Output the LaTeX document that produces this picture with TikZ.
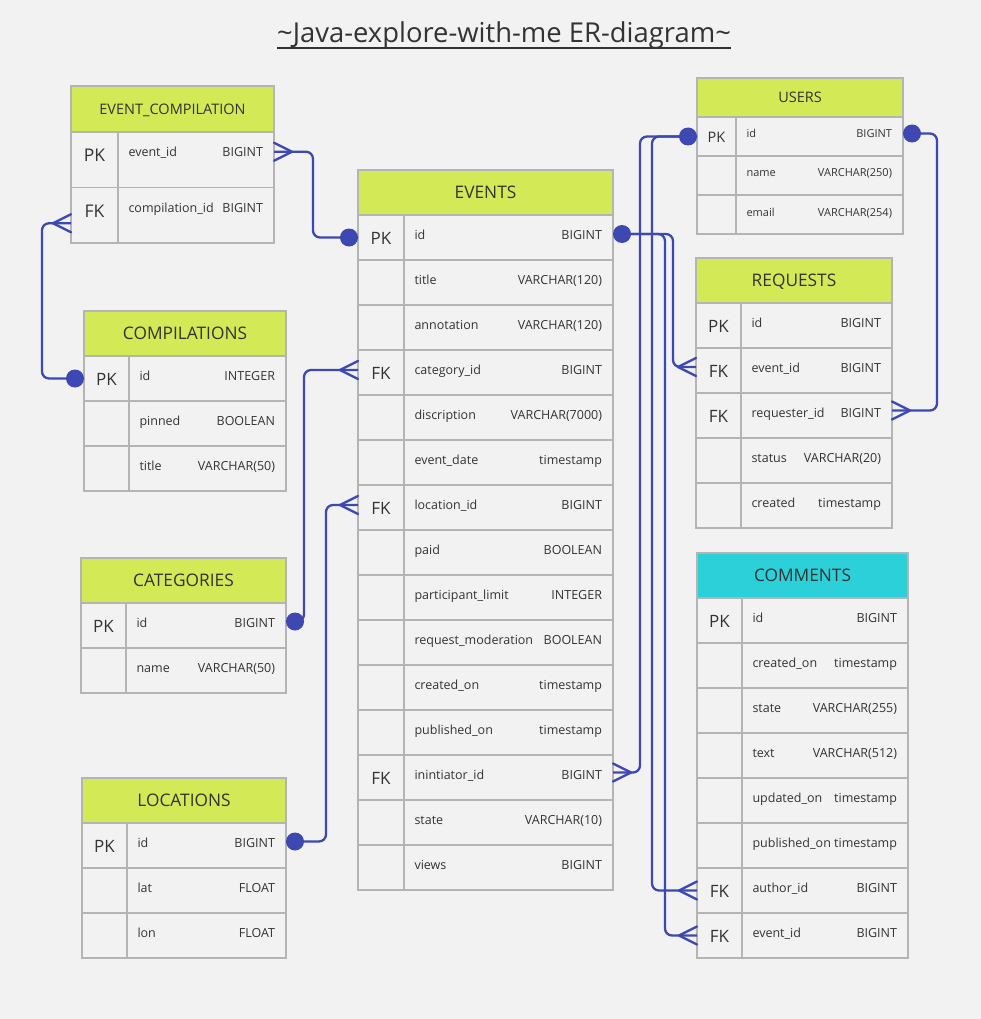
\documentclass[tikz,border=0pt]{standalone}
\usepackage{fontspec}
\setmainfont{Open Sans}
\usetikzlibrary{calc}
\definecolor{bg}{RGB}{242,242,242}
\definecolor{lime}{RGB}{212,233,86}
\definecolor{cyanh}{RGB}{43,208,216}
\definecolor{bord}{RGB}{180,180,180}
\definecolor{link}{RGB}{62,72,178}
\definecolor{txt}{RGB}{51,51,51}
\newcommand\ersetfonts[3]{\def\HF{\fontsize{#1}{#1}\selectfont}\def\FF{\fontsize{#2}{#2}\selectfont}\def\KF{\fontsize{#3}{#3}\selectfont}}
\newcommand\ersetoffs[3]{\def\KW{#1}\def\TY{#2}\def\KY{#3}}
% #1 name, #2 x, #3 y, #4 width, #5 header h, #6 row h, #7 header fill, #8 header text, #9 rows
\newcommand\ertab[9]{%
  \node[hdr, fill=#7, minimum width=#4pt, minimum height=#5pt, anchor=north west, font=\HF] (#1) at (#2,#3) {#8};
  \foreach[count=\i] \kk/\ff/\ty in {#9}{
    \node[rowbox, minimum width=#4pt, minimum height=#6pt, anchor=north west] (#1-\i) at ($(#1.south west)+(0,{(\i-1)*#6})$) {};
    \draw[bordline] ($(#1-\i.north west)+(\KW,0)$) -- ($(#1-\i.south west)+(\KW,0)$);
    \node[fieldtext, anchor=base, font=\KF] (#1-\i-k) at ($(#1-\i.north west)+({\KW/2},\TY+5)$) {\kk};
    \node[fieldtext, anchor=base west, font=\FF] (#1-\i-f) at ($(#1-\i.north west)+(\KW+10.5,\TY)$) {\ff};
    \node[fieldtext, anchor=base east, font=\FF] (#1-\i-t) at ($(#1-\i.north east)+(-11,\TY)$) {\ty};
  }
}
\newcommand\ercrow[2]{\draw[crowl] ($(#1)+({#2*18},0)$) -- ($(#1)+(0,-9)$) ($(#1)+({#2*18},0)$) -- ($(#1)+(0,9)$);}
\newcommand\erdot[2]{\fill[link] ($(#1)+({#2*9},0)$) circle[radius=9pt];}
\begin{document}
\begin{tikzpicture}[x=1pt,y=-1pt,
  hdr/.style={draw=bord, line width=1.2pt, text=txt, inner sep=0pt, outer sep=0pt, text depth=0pt},
  rowbox/.style={draw=bord, line width=1.2pt, fill=bg, inner sep=0pt, outer sep=0pt},
  bordline/.style={draw=bord, line width=1.2pt},
  fieldtext/.style={text=txt, inner sep=0pt, outer sep=0pt},
  conn/.style={draw=link, line width=2.3pt, rounded corners=7pt},
  crowl/.style={draw=link, line width=2.3pt, line cap=round}]
\fill[bg] (0,0) rectangle (981,1019);
\useasboundingbox (0,0) rectangle (981,1019);

\node[fieldtext, anchor=base, font=\fontsize{27.4}{32}\selectfont] (title) at (504,43) {\textasciitilde Java-explore-with-me ER-diagram\textasciitilde};
\draw[txt, line width=1.3pt] ([yshift=-5pt]title.base west) -- ([yshift=-5pt]title.base east);

% EVENT_COMPILATION
\ersetfonts{14.5}{12.5}{17.5}\ersetoffs{47}{25}{25}
\ertab{ec}{71}{86}{203}{46}{55.5}{lime}{EVENT\_COMPILATION}{PK/event\_id/BIGINT,FK/compilation\_id/BIGINT}

% USERS
\ersetfonts{14.5}{11}{14.5}\ersetoffs{39}{21}{20}
\ertab{us}{697}{78}{206}{39}{39}{lime}{USERS}{PK/id/BIGINT,{}/name/VARCHAR(250),{}/email/VARCHAR(254)}

% EVENTS
\ersetfonts{17.3}{12.5}{17}\ersetoffs{46}{24.5}{25}
\ertab{ev}{358}{170}{255}{45}{45}{lime}{EVENTS}{PK/id/BIGINT,{}/title/VARCHAR(120),{}/annotation/VARCHAR(120),FK/category\_id/BIGINT,{}/discription/VARCHAR(7000),{}/event\_date/timestamp,FK/location\_id/BIGINT,{}/paid/BOOLEAN,{}/participant\_limit/INTEGER,{}/request\_moderation/BOOLEAN,{}/created\_on/timestamp,{}/published\_on/timestamp,FK/inintiator\_id/BIGINT,{}/state/VARCHAR(10),{}/views/BIGINT}

% REQUESTS
\ersetfonts{17.3}{12.5}{17}\ersetoffs{45}{24.5}{25}
\ertab{rq}{696}{258}{196}{45}{45}{lime}{REQUESTS}{PK/id/BIGINT,FK/event\_id/BIGINT,FK/requester\_id/BIGINT,{}/status/VARCHAR(20),{}/created/timestamp}

% COMMENTS
\ersetfonts{17.3}{12.5}{17}\ersetoffs{45}{24.5}{25}
\ertab{cm}{697}{553}{211}{45}{45}{cyanh}{COMMENTS}{PK/id/BIGINT,{}/created\_on/timestamp,{}/state/VARCHAR(255),{}/text/VARCHAR(512),{}/updated\_on/timestamp,{}/published\_on/timestamp,FK/author\_id/BIGINT,FK/event\_id/BIGINT}

% COMPILATIONS
\ersetfonts{17.3}{12.5}{17}\ersetoffs{45}{24.5}{25}
\ertab{cp}{84}{311}{202}{45}{45}{lime}{COMPILATIONS}{PK/id/INTEGER,{}/pinned/BOOLEAN,{}/title/VARCHAR(50)}

% CATEGORIES
\ertab{ca}{81}{558}{205}{45}{45}{lime}{CATEGORIES}{PK/id/BIGINT,{}/name/VARCHAR(50)}

% LOCATIONS
\ertab{lo}{82}{778}{204}{45}{45}{lime}{LOCATIONS}{PK/id/BIGINT,{}/lat/FLOAT,{}/lon/FLOAT}

% connector end points
\coordinate (a1) at ([yshift=8pt]ec-1.east);
\coordinate (b1) at (ev-1.west);
\coordinate (a2) at ([yshift=-8pt]ec-2.west);
\coordinate (b2) at (cp-1.west);
\coordinate (a3) at ([yshift=4pt]ca-1.east);
\coordinate (b3) at ([yshift=2.5pt]ev-4.west);
\coordinate (a4) at ([yshift=4pt]lo-1.east);
\coordinate (b4) at ([yshift=2.5pt]ev-7.west);
\coordinate (a5) at ([yshift=3.5pt]ev-1.east);
\coordinate (b5) at ([yshift=3.5pt]rq-2.west);
\coordinate (b6) at (cm-8.west);
\coordinate (a7) at (us-1.west);
\coordinate (b7) at ([yshift=5pt]ev-13.east);
\coordinate (b8) at (cm-7.west);
\coordinate (a9) at ([yshift=3pt]us-1.east);
\coordinate (b9) at ([yshift=5pt]rq-3.east);

\draw[conn] (a1) -- ++(39,0) |- (b1);
\draw[conn] (a2) -- ++(-29,0) |- (b2);
\draw[conn] (a3) -- ++(18,0) |- (b3);
\draw[conn] (a4) -- ++(40,0) |- (b4);
\draw[conn] (a5) -- ++(60,0) |- (b5);
\draw[conn] (a5) -- ++(52,0) |- (b6);
\draw[conn] (a7) -- ++(-57,0) |- (b7);
\draw[conn] (a7) -- ++(-45,0) |- (b8);
\draw[conn] (a9) -- ++(34,0) |- (b9);

\ercrow{a1}{1}
\ercrow{a2}{-1}
\ercrow{b3}{-1}
\ercrow{b4}{-1}
\ercrow{b5}{-1}
\ercrow{b6}{-1}
\ercrow{b7}{1}
\ercrow{b8}{-1}
\ercrow{b9}{1}

\erdot{b1}{-1}
\erdot{b2}{-1}
\erdot{a3}{1}
\erdot{a4}{1}
\erdot{a5}{1}
\erdot{a7}{-1}
\erdot{a9}{1}
\end{tikzpicture}
\end{document}
